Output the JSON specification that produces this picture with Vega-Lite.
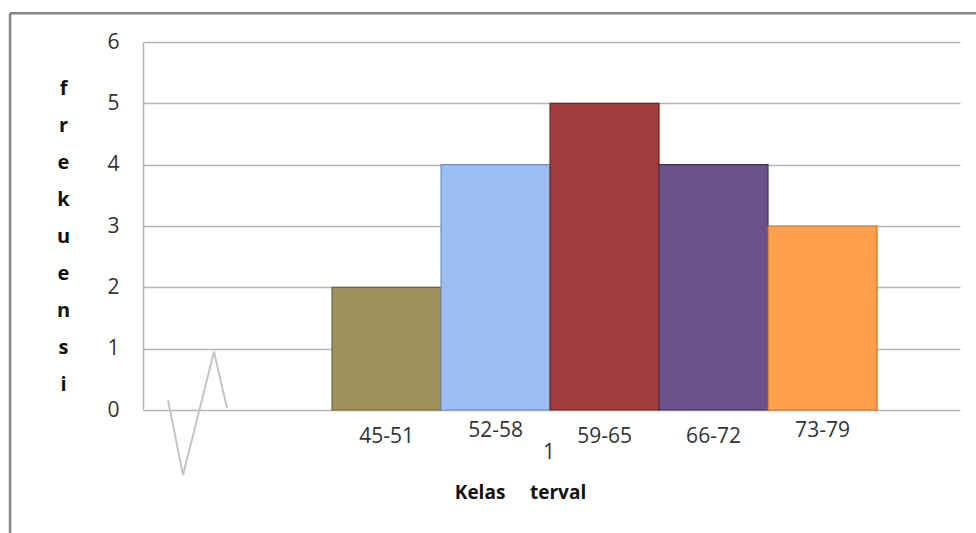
{
  "$schema": "https://vega.github.io/schema/vega-lite/v6.json",
  "width": 817,
  "height": 368,
  "autosize": {"type": "none"},
  "padding": {"left": 143, "top": 42, "right": 16, "bottom": 123},
  "background": "white",
  "config": {"view": {"stroke": null}, "font": "Open Sans"},
  "datasets": {
    "kelas": [
      {"kelas": "45-51", "bawah": 44.5, "atas": 51.5, "tengah": 48, "frekuensi": 2},
      {"kelas": "52-58", "bawah": 51.5, "atas": 58.5, "tengah": 55, "frekuensi": 4},
      {"kelas": "59-65", "bawah": 58.5, "atas": 65.5, "tengah": 62, "frekuensi": 5},
      {"kelas": "66-72", "bawah": 65.5, "atas": 72.5, "tengah": 69, "frekuensi": 4},
      {"kelas": "73-79", "bawah": 72.5, "atas": 79.5, "tengah": 76, "frekuensi": 3}
    ],
    "satu": [{"teks": "1", "x": 58.44, "y": -0.7}],
    "zigzag": [
      {"urut": 1, "x": 33.97, "y": 0.16},
      {"urut": 2, "x": 34.93, "y": -1.06},
      {"urut": 3, "x": 36.92, "y": 0.95},
      {"urut": 4, "x": 37.76, "y": 0.03}
    ],
    "bingkai": [
      {"x1": 23.82, "x2": 23.82, "y1": 6.47, "y2": -2.1},
      {"x1": 23.82, "x2": 86.0, "y1": 6.47, "y2": 6.47}
    ]
  },
  "layer": [
    {
      "data": {"name": "kelas"},
      "mark": {"type": "bar", "strokeWidth": 1.2, "orient": "vertical"},
      "encoding": {
        "x": {
          "field": "bawah", "type": "quantitative",
          "scale": {"domain": [32.36, 84.83], "nice": false, "zero": false, "padding": 0},
          "axis": {
            "domain": false, "ticks": false, "labels": false, "grid": false,
            "title": "Kelas\u00a0\u00a0\u00a0\u00a0\u00a0terval",
            "titleFont": "Open Sans", "titleFontSize": 19, "titleFontWeight": "bold",
            "titleColor": "#111", "titleX": 377, "titleY": 82, "titleBaseline": "middle", "titleAlign": "center"
          }
        },
        "x2": {"field": "atas"},
        "y": {
          "field": "frekuensi", "type": "quantitative",
          "scale": {"domain": [0, 6], "nice": false, "padding": 0},
          "axis": {
            "values": [0, 1, 2, 3, 4, 5, 6], "format": "d",
            "grid": true, "gridColor": "#b5b5b5", "gridWidth": 1.5,
            "domain": true, "domainColor": "#b5b5b5", "domainWidth": 1.5,
            "ticks": false, "labelFontSize": 21, "labelColor": "#333",
            "labelPadding": 24, "labelFont": "Open Sans",
            "title": ["f", "r", "e", "k", "u", "e", "n", "s", "i"],
            "titleAngle": 0, "titleFontSize": 20, "titleFontWeight": "bold",
            "titleColor": "#111", "titleLineHeight": 37.1,
            "titleX": -80, "titleY": 46, "titleBaseline": "middle", "titleAlign": "center"
          }
        },
        "y2": {"datum": 0},
        "color": {
          "field": "kelas", "type": "nominal", "legend": null,
          "scale": {"domain": ["45-51", "52-58", "59-65", "66-72", "73-79"],
                    "range": ["#9e925a", "#9bbdf0", "#a03c3c", "#6a5288", "#fd9f4c"]}
        },
        "stroke": {
          "field": "kelas", "type": "nominal", "legend": null,
          "scale": {"domain": ["45-51", "52-58", "59-65", "66-72", "73-79"],
                    "range": ["#6f6638", "#6f8fbf", "#6e2626", "#43335c", "#c8742c"]}
        }
      }
    },
    {
      "data": {"name": "kelas"},
      "transform": [{"filter": {"field": "kelas", "oneOf": ["45-51", "59-65", "66-72"]}}],
      "mark": {"type": "text", "fontSize": 21, "color": "#333", "baseline": "middle", "align": "center", "font": "Open Sans"},
      "encoding": {
        "x": {"field": "tengah", "type": "quantitative"},
        "y": {"datum": -0.44},
        "text": {"field": "kelas"}
      }
    },
    {
      "data": {"name": "kelas"},
      "transform": [{"filter": {"field": "kelas", "oneOf": ["52-58", "73-79"]}}],
      "mark": {"type": "text", "fontSize": 21, "color": "#333", "baseline": "middle", "align": "center", "font": "Open Sans"},
      "encoding": {
        "x": {"field": "tengah", "type": "quantitative"},
        "y": {"datum": -0.34},
        "text": {"field": "kelas"}
      }
    },
    {
      "data": {"name": "satu"},
      "mark": {"type": "text", "fontSize": 21, "color": "#333", "baseline": "middle", "align": "center", "font": "Open Sans"},
      "encoding": {
        "x": {"field": "x", "type": "quantitative"},
        "y": {"field": "y", "type": "quantitative"},
        "text": {"field": "teks"}
      }
    },
    {
      "data": {"name": "zigzag"},
      "mark": {"type": "line", "color": "#c4c4c4", "strokeWidth": 2},
      "encoding": {
        "x": {"field": "x", "type": "quantitative"},
        "y": {"field": "y", "type": "quantitative"},
        "order": {"field": "urut"}
      }
    },
    {
      "data": {"name": "bingkai"},
      "mark": {"type": "rule", "color": "#858585", "strokeWidth": 2.5},
      "encoding": {
        "x": {"field": "x1", "type": "quantitative"},
        "x2": {"field": "x2"},
        "y": {"field": "y1", "type": "quantitative"},
        "y2": {"field": "y2"}
      }
    }
  ]
}
